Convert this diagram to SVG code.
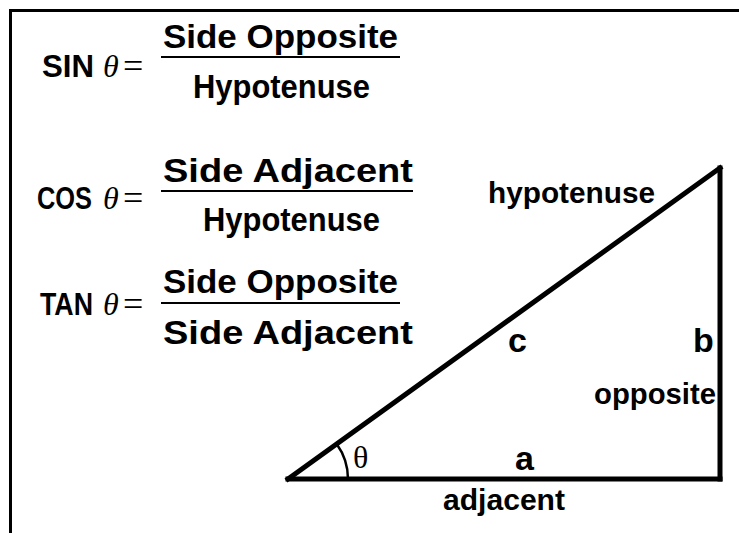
<svg xmlns="http://www.w3.org/2000/svg" width="739" height="533" viewBox="0 0 739 533">
<style>
.t{font-family:"Liberation Sans",Arial,sans-serif;font-weight:bold;fill:#000}
.f{font-size:34px}
.fn{font-size:32px}
.l{font-size:29px}
.v{font-size:34px}
.th{font-family:"Liberation Serif","Times New Roman",serif;font-style:italic;font-size:32px;fill:#000}
.eq{font-family:"Liberation Serif","Times New Roman",serif;font-size:36px;fill:#000}
.bar{stroke:#000;stroke-width:2;fill:none}
.side{stroke:#000;stroke-width:5;fill:none;stroke-linecap:square}
</style>
<rect x="0" y="0" width="739" height="533" fill="#fff"/>
<path d="M10.5,533 V10.5 H739" fill="none" stroke="#000" stroke-width="3"/>

<g id="sin-formula">
<text class="t fn" x="42" y="77" textLength="52" lengthAdjust="spacingAndGlyphs">SIN</text>
<text class="th" x="103" y="77">θ</text>
<text class="eq" x="123" y="78">=</text>
<text class="t f" x="163" y="48" textLength="235" lengthAdjust="spacingAndGlyphs">Side Opposite</text>
<line class="bar" x1="161" y1="57" x2="400" y2="57"/>
<text class="t f" x="193" y="98" textLength="177" lengthAdjust="spacingAndGlyphs">Hypotenuse</text>
</g>

<g id="cos-formula">
<text class="t fn" x="37" y="209" textLength="55" lengthAdjust="spacingAndGlyphs">COS</text>
<text class="th" x="103" y="209">θ</text>
<text class="eq" x="123" y="210">=</text>
<text class="t f" x="163" y="182" textLength="250" lengthAdjust="spacingAndGlyphs">Side Adjacent</text>
<line class="bar" x1="161" y1="191" x2="413" y2="191"/>
<text class="t f" x="203" y="231" textLength="177" lengthAdjust="spacingAndGlyphs">Hypotenuse</text>
</g>

<g id="tan-formula">
<text class="t fn" x="40" y="315" textLength="53" lengthAdjust="spacingAndGlyphs">TAN</text>
<text class="th" x="103" y="315">θ</text>
<text class="eq" x="123" y="316">=</text>
<text class="t f" x="163" y="293" textLength="235" lengthAdjust="spacingAndGlyphs">Side Opposite</text>
<line class="bar" x1="161" y1="303" x2="400" y2="303"/>
<text class="t f" x="163" y="344" textLength="250" lengthAdjust="spacingAndGlyphs">Side Adjacent</text>
</g>

<g id="connectors">
<g id="triangle">
<line class="side" x1="288" y1="479" x2="720" y2="479"/>
<line class="side" x1="720" y1="479" x2="720" y2="168"/>
<line class="side" x1="288" y1="479" x2="720" y2="168"/>
</g>
<path id="angle-arc" d="M336.7,443.9 A60,60 0 0 1 348,479" fill="none" stroke="#000" stroke-width="2.5"/>
</g>

<g id="labels">
<text class="t l" x="488" y="203" textLength="167" lengthAdjust="spacingAndGlyphs">hypotenuse</text>
<text class="t v" x="508" y="352">c</text>
<text class="t v" x="693" y="352">b</text>
<text class="t l" x="594" y="404" textLength="122" lengthAdjust="spacingAndGlyphs">opposite</text>
<text class="t v" x="515" y="470">a</text>
<text class="t l" x="443" y="510" textLength="122" lengthAdjust="spacingAndGlyphs">adjacent</text>
<text x="353" y="468" font-family="Liberation Serif,Times New Roman,serif" font-size="32" fill="#000">θ</text>
</g>
</svg>
